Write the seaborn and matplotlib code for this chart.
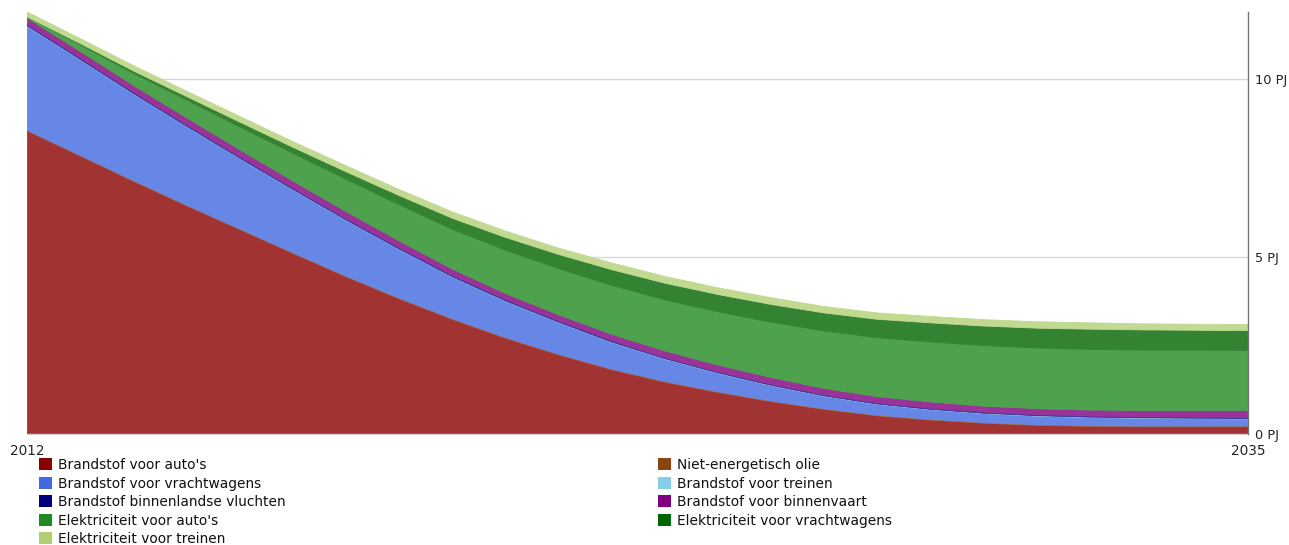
import matplotlib
matplotlib.use("Agg")
import matplotlib.pyplot as plt
from matplotlib.patches import Patch
import seaborn as sns

years = [2012, 2013, 2014, 2015, 2016, 2017, 2018, 2019, 2020, 2021, 2022, 2023,
         2024, 2025, 2026, 2027, 2028, 2029, 2030, 2031, 2032, 2033, 2034, 2035]

auto_brandstof = [8.56, 7.85, 7.14, 6.45, 5.78, 5.11, 4.45, 3.83, 3.25, 2.72, 2.25, 1.83,
                  1.48, 1.19, 0.93, 0.71, 0.53, 0.41, 0.32, 0.26, 0.23, 0.22, 0.22, 0.22]
niet_energetisch = [0.02, 0.02, 0.02, 0.02, 0.02, 0.02, 0.02, 0.02, 0.02, 0.02, 0.02, 0.02,
                    0.02, 0.02, 0.02, 0.02, 0.02, 0.02, 0.02, 0.02, 0.02, 0.02, 0.02, 0.02]
vracht_brandstof = [2.93, 2.69, 2.44, 2.21, 1.98, 1.77, 1.57, 1.37, 1.17, 1.02, 0.89, 0.75,
                    0.63, 0.52, 0.43, 0.35, 0.30, 0.27, 0.25, 0.24, 0.23, 0.22, 0.21, 0.20]
treinen_brandstof = [0.01, 0.01, 0.01, 0.01, 0.01, 0.01, 0.01, 0.01, 0.01, 0.01, 0.01, 0.01,
                     0.01, 0.01, 0.01, 0.01, 0.01, 0.01, 0.01, 0.01, 0.01, 0.01, 0.01, 0.01]
vluchten_brandstof = [0.04, 0.04, 0.04, 0.04, 0.04, 0.04, 0.04, 0.04, 0.04, 0.04, 0.04, 0.04,
                      0.03, 0.03, 0.03, 0.03, 0.03, 0.03, 0.03, 0.03, 0.03, 0.03, 0.03, 0.03]
binnenvaart_brandstof = [0.18, 0.19, 0.19, 0.20, 0.20, 0.20, 0.20, 0.19, 0.18, 0.17, 0.17, 0.18,
                         0.19, 0.19, 0.19, 0.18, 0.18, 0.18, 0.17, 0.17, 0.17, 0.18, 0.19, 0.20]
auto_elek = [0.02, 0.18, 0.34, 0.50, 0.64, 0.78, 0.91, 1.02, 1.12, 1.22, 1.30, 1.38,
             1.44, 1.50, 1.56, 1.62, 1.66, 1.69, 1.71, 1.71, 1.71, 1.70, 1.70, 1.69]
vracht_elek = [0.01, 0.04, 0.07, 0.10, 0.14, 0.17, 0.21, 0.26, 0.31, 0.36, 0.40, 0.44,
               0.47, 0.49, 0.50, 0.51, 0.52, 0.54, 0.55, 0.56, 0.57, 0.57, 0.56, 0.56]
treinen_elek = [0.14, 0.14, 0.15, 0.15, 0.16, 0.16, 0.17, 0.17, 0.18, 0.18, 0.18, 0.19,
                0.19, 0.19, 0.19, 0.18, 0.18, 0.18, 0.18, 0.18, 0.18, 0.17, 0.17, 0.17]

labels = ["Brandstof voor auto's", "Niet-energetisch olie", "Brandstof voor vrachtwagens",
          "Brandstof voor treinen", "Brandstof binnenlandse vluchten", "Brandstof voor binnenvaart",
          "Elektriciteit voor auto's", "Elektriciteit voor vrachtwagens", "Elektriciteit voor treinen"]
legend_colors = ["#8B0000", "#8B4513", "#4169E1", "#87CEEB", "#000080", "#800080",
                 "#228B22", "#006400", "#B2CF76"]
# area fills: the same colours as they appear at 80% opacity on white
area_colors = ["#A23333", "#A26A42", "#6787E7", "#9FD8EF", "#333399", "#993399",
               "#4EA24E", "#338333", "#C1D991"]
series = [auto_brandstof, niet_energetisch, vracht_brandstof, treinen_brandstof,
          vluchten_brandstof, binnenvaart_brandstof, auto_elek, vracht_elek, treinen_elek]

ytick_vals = [0, 5, 10]
ytick_labels = ["0 PJ", "5 PJ", "10 PJ"]
xtick_vals = [2012, 2035]

sns.set_theme(style="white")
plt.rcParams['font.family'] = ['DejaVu Sans']

W, H = 1289, 545
fig = plt.figure(figsize=(W / 100, H / 100), dpi=100)
ax = fig.add_axes([27 / W, 1 - 434 / H, (1248 - 27) / W, (434 - 12) / H])

polys = ax.stackplot(years, *series, colors=area_colors, linewidth=0.6)
for p, c in zip(polys, area_colors):
    p.set_edgecolor(c)
    p.set_antialiased(True)

ax.set_xlim(2012, 2035)
ax.set_ylim(0, 11.9)
ax.set_yticks(ytick_vals)
ax.set_yticklabels(ytick_labels)
ax.yaxis.tick_right()
ax.set_xticks(xtick_vals)
ax.set_xticklabels([str(v) for v in xtick_vals])
ax.tick_params(axis='y', length=0, pad=5, labelsize=9.3, labelcolor="#222222")
ax.tick_params(axis='x', length=0, pad=7, labelsize=9.8, labelcolor="#222222")

for v in ytick_vals[1:]:
    ax.axhline(v, color="#d8d8d8", linewidth=1, zorder=0)
ax.set_axisbelow(True)

for s in ["left", "top"]:
    ax.spines[s].set_visible(False)
ax.spines["right"].set_color("#777777")
ax.spines["right"].set_linewidth(1)
ax.spines["right"].set_zorder(5)
ax.spines["bottom"].set_color("#d0d0d0")
ax.spines["bottom"].set_linewidth(1)

handles = [Patch(facecolor=c, edgecolor='none') for c in legend_colors]
left_idx = [0, 2, 4, 6, 8]
right_idx = [1, 3, 5, 7]
common = dict(frameon=False, fontsize=9.9, handlelength=0.95, handleheight=0.95,
              handletextpad=0.4, labelspacing=0.33, borderpad=0, borderaxespad=0,
              loc="upper left")
leg1 = fig.legend([handles[i] for i in left_idx], [labels[i] for i in left_idx],
                  bbox_to_anchor=(39 / W, 1 - 458 / H), **common)
leg2 = fig.legend([handles[i] for i in right_idx], [labels[i] for i in right_idx],
                  bbox_to_anchor=(658 / W, 1 - 458 / H), **common)
for leg in (leg1, leg2):
    for t in leg.get_texts():
        t.set_color("#111111")

fig.savefig("out.png", dpi=100)
